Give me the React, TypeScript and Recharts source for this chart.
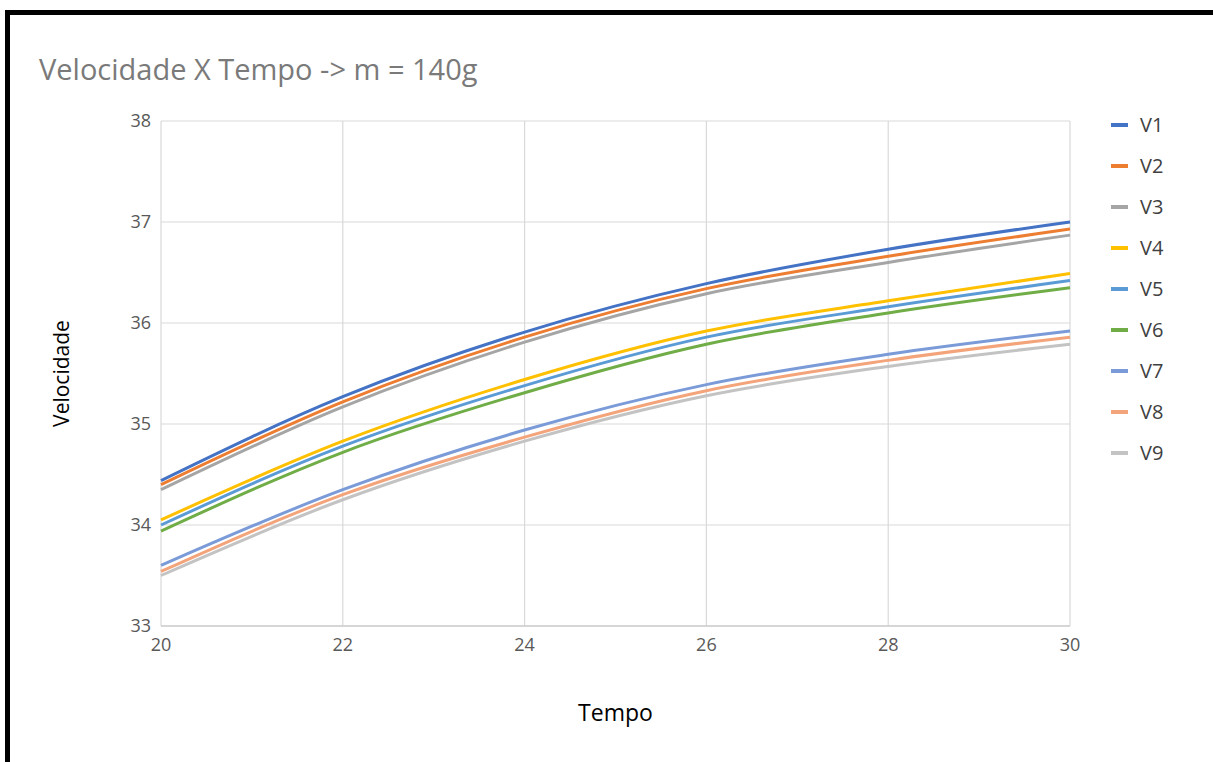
import { LineChart, Line, XAxis, YAxis, CartesianGrid, Legend } from 'recharts';

const tempo = [20, 22, 24, 26, 28, 30];

const v1 = [34.44, 35.27, 35.91, 36.39, 36.73, 37.0];
const v2 = [34.4, 35.22, 35.86, 36.34, 36.66, 36.93];
const v3 = [34.35, 35.17, 35.81, 36.29, 36.6, 36.87];
const v4 = [34.05, 34.83, 35.44, 35.92, 36.22, 36.49];
const v5 = [34.0, 34.78, 35.38, 35.86, 36.16, 36.42];
const v6 = [33.94, 34.72, 35.31, 35.79, 36.1, 36.35];
const v7 = [33.6, 34.35, 34.94, 35.39, 35.69, 35.92];
const v8 = [33.54, 34.3, 34.87, 35.33, 35.63, 35.86];
const v9 = [33.5, 34.25, 34.83, 35.28, 35.57, 35.79];

const xTicks = [20, 22, 24, 26, 28, 30];
const yTicks = [33, 34, 35, 36, 37, 38];

const series = [
  { key: 'V1', values: v1, color: '#4472C4' },
  { key: 'V2', values: v2, color: '#ED7D31' },
  { key: 'V3', values: v3, color: '#A5A5A5' },
  { key: 'V4', values: v4, color: '#FFC000' },
  { key: 'V5', values: v5, color: '#5B9BD5' },
  { key: 'V6', values: v6, color: '#70AD47' },
  { key: 'V7', values: v7, color: '#7A9BD8' },
  { key: 'V8', values: v8, color: '#F4A47A' },
  { key: 'V9', values: v9, color: '#C3C3C3' },
];

const data = tempo.map((t, i) => {
  const row: Record<string, number> = { t };
  series.forEach((s) => {
    row[s.key] = s.values[i];
  });
  return row;
});

const FONT = '"Open Sans", "Noto Sans", sans-serif';
const tickStyle = { fill: '#595959', fontSize: 18, fontFamily: FONT };

function LegendList(props: any) {
  const items = props.payload || [];
  return (
    <div style={{ fontFamily: FONT }}>
      {items.map((item: any) => (
        <div
          key={item.value}
          style={{ display: 'flex', alignItems: 'center', height: 41 }}
        >
          <span
            style={{
              display: 'inline-block',
              width: 17,
              height: 4,
              background: item.color,
              marginRight: 12,
            }}
          />
          <span style={{ fontSize: 20, color: '#404040' }}>{item.value}</span>
        </div>
      ))}
    </div>
  );
}

export default function App() {
  return (
    <div
      style={{
        position: 'fixed',
        left: 0,
        top: 0,
        width: 1213,
        height: 762,
        overflow: 'hidden',
        background: '#fff',
      }}
    >
      <div
        style={{
          position: 'absolute',
          left: 5,
          top: 10,
          width: 1400,
          height: 900,
          border: '5px solid #000',
        }}
      />
      <div
        style={{
          position: 'absolute',
          left: 39,
          top: 54,
          fontFamily: FONT,
          fontSize: 29,
          lineHeight: 1,
          color: '#7a7a7a',
          whiteSpace: 'nowrap',
        }}
      >
        Velocidade X Tempo -&gt; m = 140g
      </div>
      <div style={{ position: 'absolute', left: 0, top: 0 }}>
        <LineChart
          width={1213}
          height={762}
          data={data}
          margin={{ top: 121, right: 143, left: 31, bottom: 6 }}
        >
          <CartesianGrid stroke="#d9d9d9" strokeWidth={1.2} />
          <XAxis
            dataKey="t"
            type="number"
            domain={[20, 30]}
            ticks={xTicks}
            height={130}
            tickSize={0}
            tickMargin={12}
            axisLine={{ stroke: '#cfcfcf', strokeWidth: 1.5 }}
            tick={tickStyle}
            label={{
              value: 'Tempo',
              position: 'insideTop',
              offset: 79,
              style: { fill: '#000', fontSize: 23, fontFamily: FONT },
            }}
          />
          <YAxis
            type="number"
            domain={[33, 38]}
            ticks={yTicks}
            width={130}
            tickSize={0}
            tickMargin={10}
            axisLine={false}
            tick={tickStyle}
            label={{
              value: 'Velocidade',
              angle: -90,
              position: 'insideLeft',
              offset: 31,
              style: { textAnchor: 'middle', fill: '#000', fontSize: 21, fontFamily: FONT },
            }}
          />
          <Legend
            layout="vertical"
            verticalAlign="middle"
            align="center"
            content={<LegendList />}
            wrapperStyle={{ left: 1111, top: 104, width: 100, height: 380 }}
          />
          {series.map((s) => (
            <Line
              key={s.key}
              dataKey={s.key}
              name={s.key}
              type="monotone"
              stroke={s.color}
              strokeWidth={3}
              dot={false}
              activeDot={false}
              isAnimationActive={false}
            />
          ))}
        </LineChart>
      </div>
    </div>
  );
}
